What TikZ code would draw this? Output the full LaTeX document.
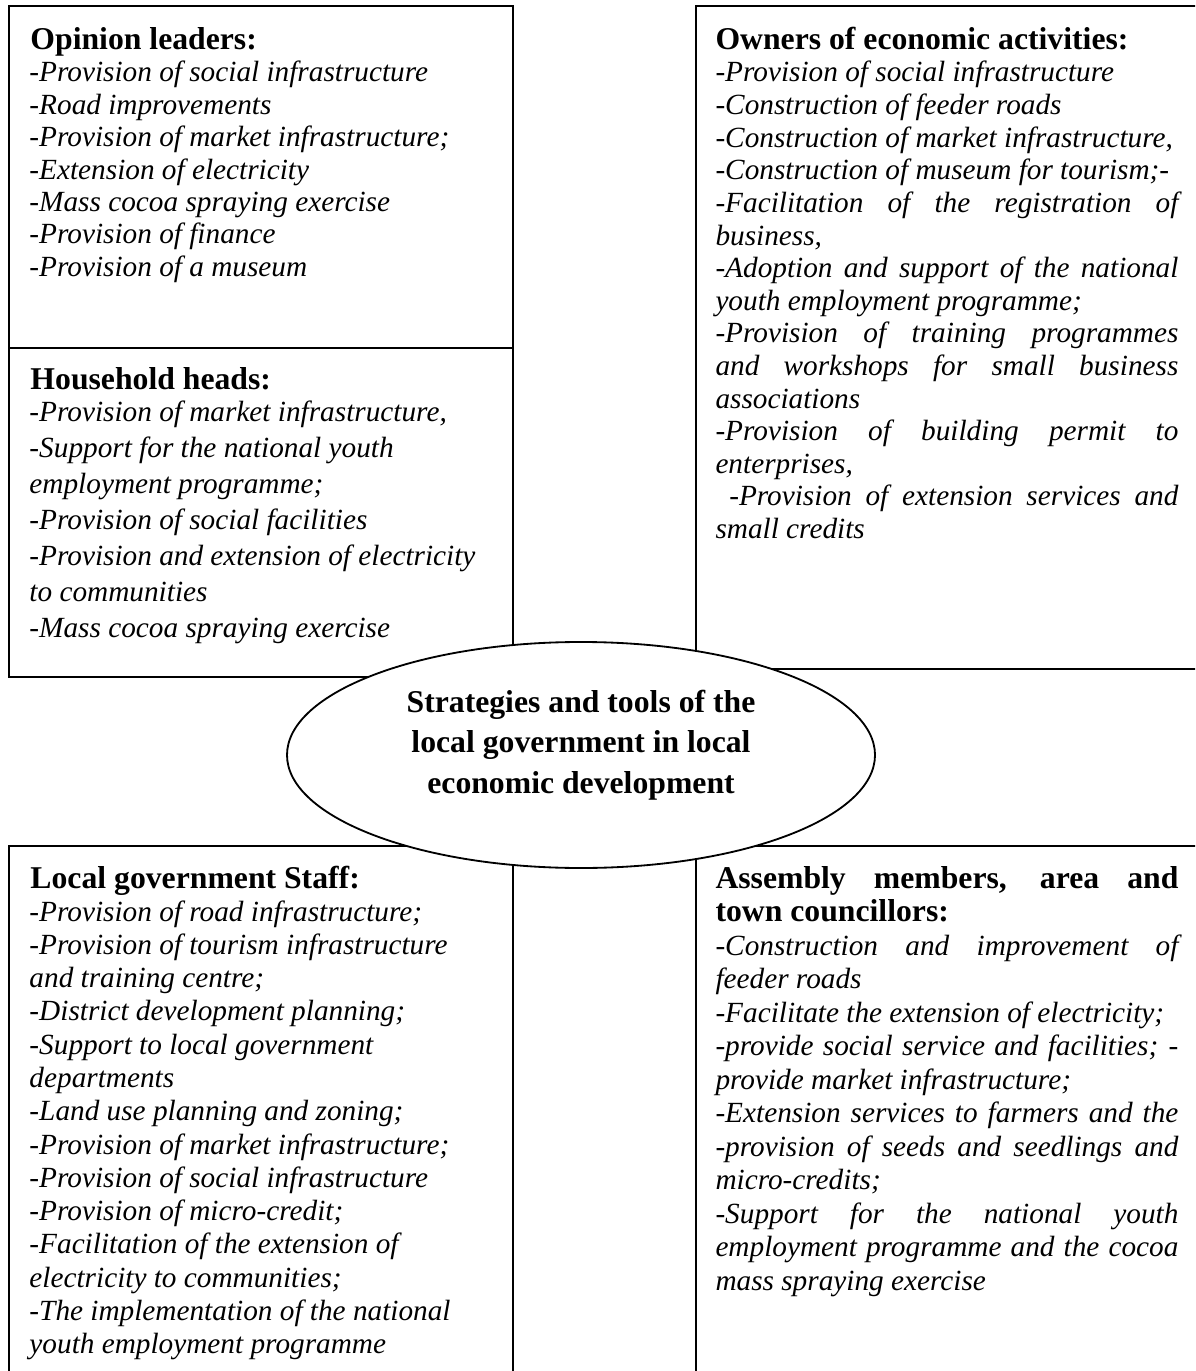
\documentclass[tikz,border=0pt]{standalone}
\usepackage{fontspec}
\setmainfont{Liberation Serif}
\newlength\colw \setlength\colw{189.8pt}
\newcommand\jl[1]{\makebox[\colw][s]{#1}}
\newcommand\lines[1]{\begin{tabular}[t]{@{}l@{}}#1\end{tabular}}
\tikzset{
  frame/.style={draw, line width=0.75pt},
  head/.style={anchor=base west, inner sep=0pt, font=\fontsize{13}{13.53}\selectfont\bfseries},
  bodytl/.style={anchor=base west, inner sep=0pt, font=\fontsize{12}{13.28}\selectfont\itshape},
  bodytr/.style={anchor=base west, inner sep=0pt, font=\fontsize{12}{13.37}\selectfont\itshape},
  bodywide/.style={anchor=base west, inner sep=0pt, font=\fontsize{12}{14.76}\selectfont\itshape},
  bodybl/.style={anchor=base west, inner sep=0pt, font=\fontsize{12}{13.65}\selectfont\itshape},
  bodybr/.style={anchor=base west, inner sep=0pt, font=\fontsize{12}{13.74}\selectfont\itshape},
  centre/.style={anchor=base, inner sep=0pt, font=\fontsize{13}{16.8}\selectfont\bfseries},
}
\begin{document}
\begin{tikzpicture}[x=0.41pt,y=-0.41pt]
\useasboundingbox (0,0) rectangle (1195,1371);
\clip (0,0) rectangle (1195,1371);
% boxes
\draw[frame] (9,6) rectangle (513,677);
\draw[frame] (9,348) -- (513,348);
\draw[frame] (696,6) rectangle (1220,669);
\draw[frame] (9,846) rectangle (513,1400);
\draw[frame] (696,846) rectangle (1220,1400);
% top-left
\node[head] (olh) at (30,50) {Opinion leaders:};
\node[bodytl] (olb) at (29,82) {\lines{-Provision of social infrastructure\\
-Road improvements\\
-Provision of market infrastructure;\\
-Extension of electricity\\
-Mass cocoa spraying exercise\\
-Provision of finance\\
-Provision of a museum}};
\node[head] (hhh) at (30,390) {Household heads:};
\node[bodywide] (hhb) at (29,422) {\lines{-Provision of market infrastructure,\\
-Support for the national youth\\
employment programme;\\
-Provision of social facilities\\
-Provision and extension of electricity\\
to communities\\
-Mass cocoa spraying exercise}};
% top-right
\node[head] (owh) at (715,50) {Owners of economic activities:};
\node[bodytr] (owb) at (715,82) {\lines{-Provision of social infrastructure\\
-Construction of feeder roads\\
-Construction of market infrastructure,\\
-Construction of museum for tourism;-\\
\jl{-Facilitation of the registration of}\\
business,\\
\jl{-Adoption and support of the national}\\
youth employment programme;\\
\jl{-Provision of training programmes}\\
\jl{and workshops for small business}\\
associations\\
\jl{-Provision of building permit to}\\
enterprises,\\
\jl{\ -Provision of extension services and}\\
small credits}};
% bottom-left
\node[head] (lgh) at (30,888) {Local government Staff:};
\node[bodybl] (lgb) at (29,921) {\lines{-Provision of road infrastructure;\\
-Provision of tourism infrastructure\\
and training centre;\\
-District development planning;\\
-Support to local government\\
departments\\
-Land use planning and zoning;\\
-Provision of market infrastructure;\\
-Provision of social infrastructure\\
-Provision of micro-credit;\\
-Facilitation of the extension of\\
electricity to communities;\\
-The implementation of the national\\
youth employment programme}};
% bottom-right
\node[head] (amh) at (715,888) {\lines{\jl{Assembly members, area and}\\town councillors:}};
\node[bodybr] (amb) at (715,955) {\lines{\jl{-Construction and improvement of}\\
feeder roads\\
-Facilitate the extension of electricity;\\
\jl{-provide social service and facilities; -}\\
provide market infrastructure;\\
\jl{-Extension services to farmers and the}\\
\jl{-provision of seeds and seedlings and}\\
micro-credits;\\
\jl{-Support for the national youth}\\
\jl{employment programme and the cocoa}\\
mass spraying exercise}};
% central ellipse
\filldraw[frame, fill=white] (581,755) ellipse [x radius=294, y radius=113];
\node[centre] (ctr) at (581,712) {\begin{tabular}[t]{@{}c@{}}Strategies and tools of the\\local government in local\\economic development\end{tabular}};
\end{tikzpicture}
\end{document}
